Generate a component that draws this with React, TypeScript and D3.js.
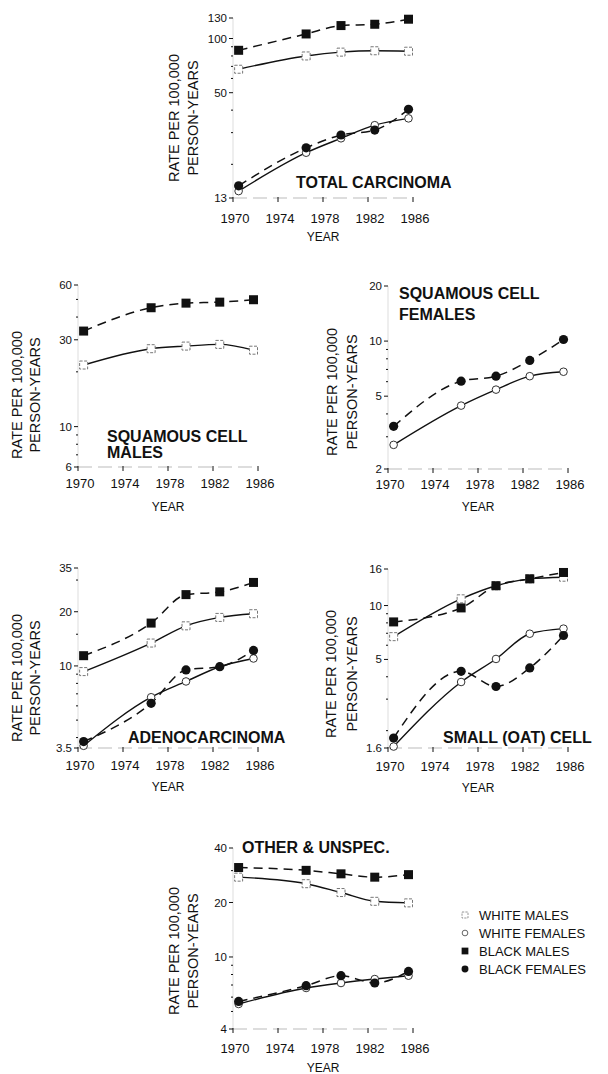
import React from 'react';
import * as d3 from 'd3';

// survey midpoints for the five periods
const years = [1970.5, 1976.5, 1979.6, 1982.6, 1985.6];
const yearTicks = [1970, 1974, 1978, 1982, 1986];

// total carcinoma
const totalWM = [67.5, 80, 84, 85.5, 85];
const totalWF = [14.2, 23.2, 27.9, 33, 36];
const totalBM = [86, 106, 118, 120, 128];
const totalBF = [15.2, 24.7, 29.1, 31, 40.4];

// squamous cell, males / females
const sqMaleWM = [21.8, 26.8, 27.7, 28.3, 26.3];
const sqMaleBM = [33.5, 45, 47.7, 48.3, 49.8];
const sqFemWF = [2.71, 4.44, 5.43, 6.43, 6.8];
const sqFemBF = [3.42, 6.04, 6.43, 7.84, 10.2];

// adenocarcinoma
const adenoWM = [9.3, 13.4, 16.7, 18.6, 19.5];
const adenoWF = [3.6, 6.7, 8.2, 9.9, 11.0];
const adenoBM = [11.4, 17.3, 24.9, 25.8, 29.1];
const adenoBF = [3.8, 6.2, 9.5, 9.9, 12.2];

// small (oat) cell
const smallWM = [6.7, 10.9, 12.9, 14.1, 14.4];
const smallWF = [1.63, 3.74, 5.03, 6.96, 7.43];
const smallBM = [8.1, 9.7, 12.9, 14.1, 15.3];
const smallBF = [1.82, 4.29, 3.53, 4.48, 6.8];

// other & unspecified
const otherWM = [27.6, 25.4, 22.7, 20.3, 19.9];
const otherWF = [5.5, 6.74, 7.18, 7.55, 7.88];
const otherBM = [31.2, 30.1, 28.8, 27.6, 28.5];
const otherBF = [5.68, 6.94, 7.88, 7.18, 8.32];

const legendLabels = ['WHITE MALES', 'WHITE FEMALES', 'BLACK MALES', 'BLACK FEMALES'];

const NARROW = '"Liberation Sans Narrow", "Arial Narrow", "Liberation Sans", Arial, sans-serif';
const SANS = '"Liberation Sans", Arial, Helvetica, sans-serif';
const INK = '#111';

type Series = { kind: 'WM' | 'WF' | 'BM' | 'BF'; values: number[] };

type Panel = {
  x0: number; yTop: number; yBot: number;
  domain: [number, number];
  major: number[]; majorLabels: string[]; minor: number[];
  title: string[]; titleX: number; titleY: number[];
  labelX: [number, number]; labelY: number;
  yearY: number; tickY: number;
  series: Series[];
};

const panels: Panel[] = [
  {
    x0: 233, yTop: 18, yBot: 198, domain: [13, 130],
    major: [13, 50, 100, 130], majorLabels: ['13', '50', '100', '130'], minor: [20, 30, 40, 60, 70, 80, 90],
    title: ['TOTAL CARCINOMA'], titleX: 296, titleY: [188],
    labelX: [174, 193], labelY: 118, yearY: 241, tickY: 223,
    series: [{ kind: 'WM', values: totalWM }, { kind: 'WF', values: totalWF }, { kind: 'BM', values: totalBM }, { kind: 'BF', values: totalBF }],
  },
  {
    x0: 78, yTop: 285, yBot: 467, domain: [6, 60],
    major: [6, 10, 30, 60], majorLabels: ['6', '10', '30', '60'], minor: [7, 8, 9, 20, 40, 50],
    title: ['SQUAMOUS CELL', 'MALES'], titleX: 107, titleY: [442, 458],
    labelX: [17, 35], labelY: 395, yearY: 511, tickY: 488,
    series: [{ kind: 'WM', values: sqMaleWM }, { kind: 'BM', values: sqMaleBM }],
  },
  {
    x0: 388, yTop: 286, yBot: 469, domain: [2, 20],
    major: [2, 5, 10, 20], majorLabels: ['2', '5', '10', '20'], minor: [3, 4, 6, 7, 8, 9],
    title: ['SQUAMOUS CELL', 'FEMALES'], titleX: 399, titleY: [299, 320],
    labelX: [332, 352], labelY: 392, yearY: 511, tickY: 489,
    series: [{ kind: 'WF', values: sqFemWF }, { kind: 'BF', values: sqFemBF }],
  },
  {
    x0: 78, yTop: 568, yBot: 748, domain: [3.5, 35],
    major: [3.5, 10, 20, 35], majorLabels: ['3.5', '10', '20', '35'], minor: [4, 5, 6, 7, 8, 9, 15, 30],
    title: ['ADENOCARCINOMA'], titleX: 128, titleY: [743],
    labelX: [17, 35], labelY: 678, yearY: 791, tickY: 770,
    series: [{ kind: 'WM', values: adenoWM }, { kind: 'WF', values: adenoWF }, { kind: 'BM', values: adenoBM }, { kind: 'BF', values: adenoBF }],
  },
  {
    x0: 388, yTop: 569, yBot: 748, domain: [1.6, 16],
    major: [1.6, 5, 10, 16], majorLabels: ['1.6', '5', '10', '16'], minor: [2, 3, 4, 6, 7, 8, 9],
    title: ['SMALL (OAT) CELL'], titleX: 443, titleY: [743],
    labelX: [331, 352], labelY: 674, yearY: 792, tickY: 771,
    series: [{ kind: 'WM', values: smallWM }, { kind: 'WF', values: smallWF }, { kind: 'BM', values: smallBM }, { kind: 'BF', values: smallBF }],
  },
  {
    x0: 233, yTop: 848, yBot: 1029, domain: [4, 40],
    major: [4, 10, 20, 40], majorLabels: ['4', '10', '20', '40'], minor: [5, 6, 7, 8, 9, 30],
    title: ['OTHER & UNSPEC.'], titleX: 242, titleY: [853],
    labelX: [174, 193], labelY: 951, yearY: 1072, tickY: 1053,
    series: [{ kind: 'WM', values: otherWM }, { kind: 'WF', values: otherWF }, { kind: 'BM', values: otherBM }, { kind: 'BF', values: otherBF }],
  },
];

const Marker = ({ kind, x, y }: { kind: string; x: number; y: number }) => {
  if (kind === 'WM') return <rect x={x - 4} y={y - 4} width={8} height={8} fill="#fff" stroke="#777" strokeWidth={1} strokeDasharray="3,1.5" />;
  if (kind === 'WF') return <circle cx={x} cy={y} r={3.8} fill="#fff" stroke="#333" strokeWidth={1} />;
  if (kind === 'BM') return <rect x={x - 4.5} y={y - 4.5} width={9} height={9} fill={INK} />;
  return <circle cx={x} cy={y} r={4.6} fill={INK} />;
};

const ChartPanel = ({ p }: { p: Panel }) => {
  const x = d3.scaleLinear().domain([1970, 1986]).range([p.x0, p.x0 + 180]);
  const y = d3.scaleLog().domain(p.domain).range([p.yBot, p.yTop]);
  const line = d3.line<number>()
    .x((d, i) => x(years[i]))
    .y(d => y(d))
    .curve(d3.curveMonotoneX);

  // draw white series first, black on top
  const order = ['WM', 'WF', 'BM', 'BF'];
  const series = [...p.series].sort((a, b) => order.indexOf(a.kind) - order.indexOf(b.kind));

  return (
    <g>
      {/* faint axis lines, as in the scan */}
      <line x1={p.x0} x2={p.x0} y1={p.yTop} y2={p.yBot} stroke="#ddd" strokeWidth={1} />
      <line x1={p.x0} x2={p.x0 + 180} y1={p.yBot} y2={p.yBot} stroke="#bbb" strokeWidth={1} strokeDasharray="14,6" />

      {p.major.map((v, i) => (
        <g key={'M' + v}>
          <line x1={p.x0 - 4} x2={p.x0} y1={y(v)} y2={y(v)} stroke={INK} strokeWidth={1} />
          <text x={p.x0 - 6} y={y(v)} dy="0.35em" textAnchor="end" fontFamily={NARROW} fontSize={11.5} fill={INK}>
            {p.majorLabels[i]}
          </text>
        </g>
      ))}
      {p.minor.map(v => (
        <line key={'m' + v} x1={p.x0 - 2} x2={p.x0} y1={y(v)} y2={y(v)} stroke={INK} strokeWidth={1} />
      ))}

      {yearTicks.map(t => (
        <g key={t}>
          <line x1={x(t)} x2={x(t)} y1={p.yBot - 1} y2={p.yBot + 4} stroke={INK} strokeWidth={1} />
          <text x={x(t) + 2} y={p.tickY} textAnchor="middle" fontFamily={NARROW} fontSize={13} fill={INK}>{t}</text>
        </g>
      ))}
      <text x={x(1978)} y={p.yearY} textAnchor="middle" fontFamily={SANS} fontSize={12} fill={INK}>YEAR</text>

      {['RATE PER 100,000', 'PERSON-YEARS'].map((s, i) => (
        <text key={s} transform={`translate(${p.labelX[i]},${p.labelY}) rotate(-90)`} textAnchor="middle"
          dominantBaseline="central" fontFamily={SANS} fontSize={14.5} fill={INK}>{s}</text>
      ))}

      {p.title.map((s, i) => (
        <text key={s} x={p.titleX} y={p.titleY[i]} fontFamily={SANS} fontWeight="bold" fontSize={16} fill={INK}>{s}</text>
      ))}

      {series.map(s => (
        <path key={'l' + s.kind} d={line(s.values) || ''} fill="none" stroke={INK}
          strokeWidth={s.kind[0] === 'B' ? 1.5 : 1.4}
          strokeDasharray={s.kind[0] === 'B' ? '9,6' : undefined} />
      ))}
      {series.map(s => s.values.map((v, i) => (
        <Marker key={s.kind + i} kind={s.kind} x={x(years[i])} y={y(v)} />
      )))}
    </g>
  );
};

const App = () => {
  const legendY = d3.scalePoint<string>().domain(legendLabels).range([915, 969]);
  const legendKinds = ['WM', 'WF', 'BM', 'BF'];
  return (
    <svg width={608} height={1074} style={{ position: 'absolute', left: 0, top: 0, background: '#fff' }}>
      <rect width={608} height={1074} fill="#fff" />
      {panels.map((p, i) => <ChartPanel key={i} p={p} />)}
      {legendLabels.map((l, i) => (
        <g key={l}>
          <g transform={`translate(465,${legendY(l)}) scale(0.75)`}>
            <Marker kind={legendKinds[i]} x={0} y={0} />
          </g>
          <text x={479} y={legendY(l)} dy="0.36em" fontFamily={NARROW} fontSize={13} fill={INK}>{l}</text>
        </g>
      ))}
    </svg>
  );
};

export default App;
